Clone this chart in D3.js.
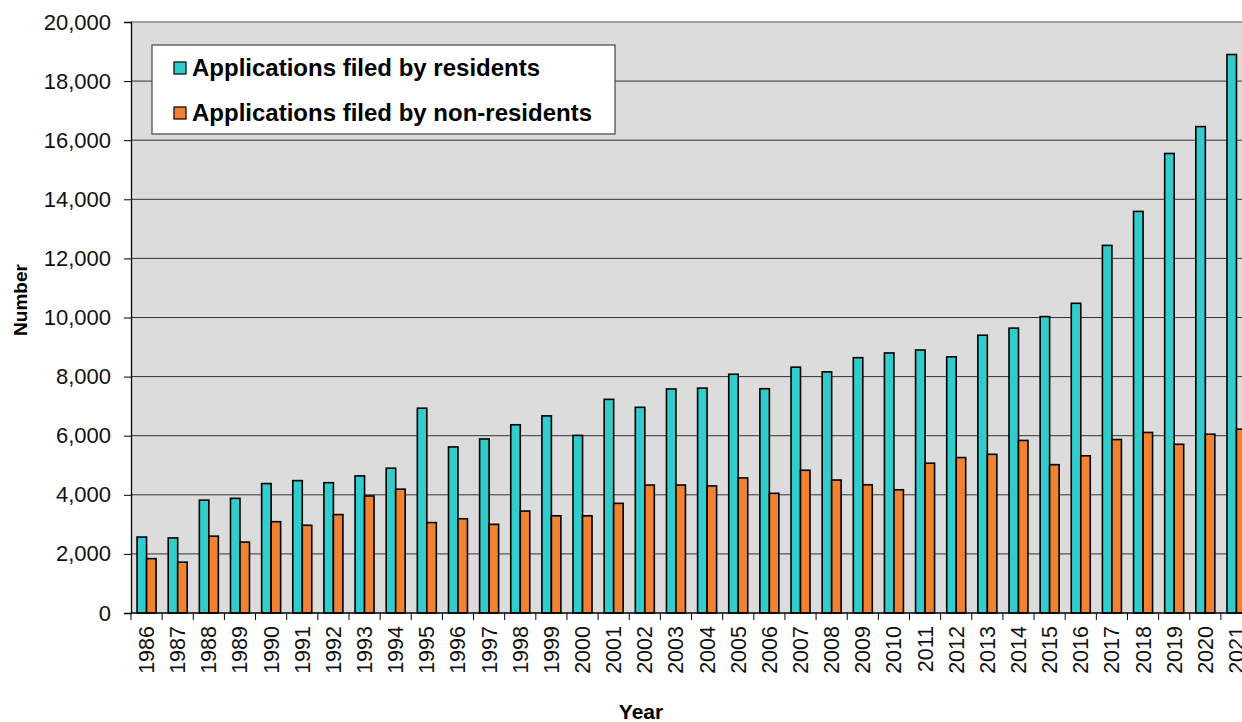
<!DOCTYPE html>
<html>
<head>
<meta charset="utf-8">
<script src="https://cdn.jsdelivr.net/npm/d3@7"></script>
<style>
body { margin:0; background:#fff; }
text { font-family: "Liberation Sans", Arial, sans-serif; }
</style>
</head>
<body>
<script>
// data
var years = ["1986","1987","1988","1989","1990","1991","1992","1993","1994","1995",
  "1996","1997","1998","1999","2000","2001","2002","2003","2004","2005",
  "2006","2007","2008","2009","2010","2011","2012","2013","2014","2015",
  "2016","2017","2018","2019","2020","2021"];
var residents = [2570,2540,3820,3880,4380,4480,4410,4640,4900,6930,
  5620,5890,6370,6670,6010,7230,6960,7580,7610,8080,
  7590,8320,8160,8640,8800,8900,8670,9400,9640,10030,
  10480,12440,13590,15550,16460,18900];
var nonResidents = [1840,1720,2600,2400,3090,2970,3330,3960,4190,3060,
  3190,3000,3450,3290,3290,3710,4330,4330,4300,4570,
  4050,4830,4500,4340,4170,5070,5260,5370,5840,5020,
  5320,5870,6110,5710,6050,6220];
var seriesNames = ["Applications filed by residents","Applications filed by non-residents"];
var colors = ["#33CCCC","#F08232"];
var yTicks = [0,2000,4000,6000,8000,10000,12000,14000,16000,18000,20000];

var totalWidth = 1242, totalHeight = 722;
var margin = {top:22, left:131, bottom:109};
var step = 31.14;
var plotRight = margin.left + step*years.length;
var plotBottom = totalHeight - margin.bottom;

var svg = d3.select("body").append("svg")
  .attr("width", totalWidth)
  .attr("height", totalHeight);

var x = d3.scaleBand()
  .domain(years)
  .range([margin.left, plotRight]);
var xs = d3.scaleBand()
  .domain([0,1])
  .range([0, x.bandwidth()])
  .paddingOuter(0.64);
var y = d3.scaleLinear()
  .domain([0,20000])
  .range([plotBottom, margin.top]);

// plot background
svg.append("rect")
  .attr("x", margin.left).attr("y", margin.top)
  .attr("width", plotRight - margin.left)
  .attr("height", plotBottom - margin.top)
  .attr("fill", "#dcdcdc");

// gridlines
svg.selectAll(".grid")
  .data(yTicks.filter(function(d){ return d > 0; }))
  .enter().append("line")
  .attr("x1", margin.left).attr("x2", plotRight)
  .attr("y1", function(d){ return y(d); })
  .attr("y2", function(d){ return y(d); })
  .attr("stroke", function(d){ return d == 20000 ? "#8a8a8a" : "#333"; })
  .attr("stroke-width", function(d){ return d == 20000 ? 1.5 : 1; });

// bars
var rows = years.map(function(yr, i){ return {year:yr, vals:[residents[i], nonResidents[i]]}; });
var groups = svg.selectAll(".yr")
  .data(rows)
  .enter().append("g")
  .attr("transform", function(d){ return "translate(" + x(d.year) + ",0)"; });
groups.selectAll("rect")
  .data(function(d){ return d.vals; })
  .enter().append("rect")
  .attr("x", function(d,i){ return xs(i); })
  .attr("width", xs.bandwidth())
  .attr("y", function(d){ return y(d); })
  .attr("height", function(d){ return plotBottom - y(d); })
  .attr("fill", function(d,i){ return colors[i]; })
  .attr("stroke", "#000")
  .attr("stroke-width", 1.6);

// y axis
var yAxis = svg.append("g")
  .attr("transform", "translate(" + margin.left + ",0)")
  .call(d3.axisLeft(y).tickValues(yTicks).tickFormat(d3.format(",")).tickSize(7).tickPadding(13));
yAxis.select(".domain").attr("stroke","#000").attr("stroke-width",1.3);
yAxis.selectAll("text").attr("font-size", 22).attr("fill","#111").style("font-family","Liberation Sans, Arial");

// x axis: ticks at category boundaries
svg.append("line")
  .attr("x1", margin.left).attr("x2", plotRight)
  .attr("y1", plotBottom).attr("y2", plotBottom)
  .attr("stroke","#000").attr("stroke-width",1.3);
svg.selectAll(".xtick")
  .data(years)
  .enter().append("line")
  .attr("x1", function(d){ return x(d); })
  .attr("x2", function(d){ return x(d); })
  .attr("y1", plotBottom).attr("y2", plotBottom + 7)
  .attr("stroke","#000");
svg.selectAll(".xlab")
  .data(years)
  .enter().append("text")
  .attr("transform", function(d){
    return "translate(" + (x(d) + x.bandwidth()/2 + 7.5) + "," + (plotBottom + 13) + ") rotate(-90)";
  })
  .attr("text-anchor", "end")
  .attr("font-size", 21.5)
  .attr("fill", "#111")
  .text(function(d){ return d; });

// axis titles
svg.append("text")
  .attr("transform", "translate(27,300) rotate(-90)")
  .attr("text-anchor", "middle")
  .attr("font-size", 19)
  .attr("font-weight", "bold")
  .text("Number");
svg.append("text")
  .attr("x", 641).attr("y", 719)
  .attr("text-anchor", "middle")
  .attr("font-size", 21)
  .attr("font-weight", "bold")
  .text("Year");

// legend
var legend = svg.append("g");
legend.append("rect")
  .attr("x", 152).attr("y", 45)
  .attr("width", 463).attr("height", 89)
  .attr("fill", "#fff")
  .attr("stroke", "#444")
  .attr("stroke-width", 1.2);
var items = legend.selectAll(".item")
  .data(seriesNames)
  .enter().append("g")
  .attr("transform", function(d,i){ return "translate(174," + (68 + i*45) + ")"; });
items.append("rect")
  .attr("x", 0).attr("y", -6)
  .attr("width", 12).attr("height", 12)
  .attr("fill", function(d,i){ return colors[i]; })
  .attr("stroke", "#000")
  .attr("stroke-width", 1.2);
items.append("text")
  .attr("x", 18).attr("y", 8)
  .attr("font-size", 24)
  .attr("font-weight", "bold")
  .attr("fill", "#000")
  .text(function(d){ return d; });
</script>
</body>
</html>
